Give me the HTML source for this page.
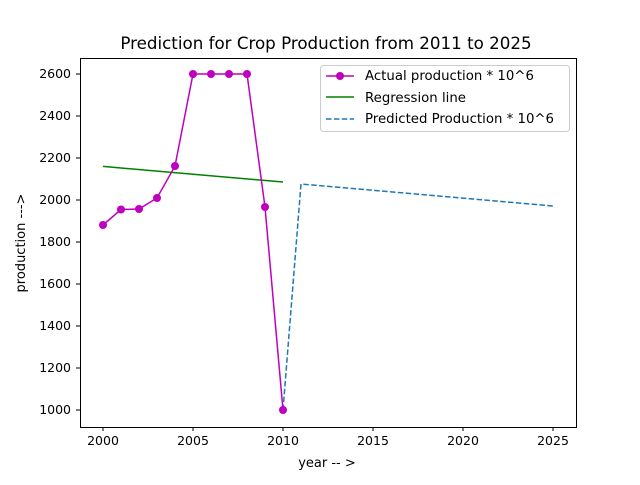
<!DOCTYPE html>
<html><head><meta charset="utf-8"><style>body{margin:0;background:#fff}</style></head><body>
<svg width="640" height="480" xmlns="http://www.w3.org/2000/svg" font-family="DejaVu Sans, Liberation Sans, sans-serif">
<rect width="640" height="480" fill="#fff"/>
<text x="326" y="49" font-size="16.7" text-anchor="middle">Prediction for Crop Production from 2011 to 2025</text>
<g stroke="#000" stroke-width="1">
<line x1="103" y1="427" x2="103" y2="431"/><line x1="193" y1="427" x2="193" y2="431"/><line x1="283" y1="427" x2="283" y2="431"/><line x1="373" y1="427" x2="373" y2="431"/><line x1="463" y1="427" x2="463" y2="431"/><line x1="553" y1="427" x2="553" y2="431"/>
<line x1="76" y1="410" x2="80" y2="410"/><line x1="76" y1="368" x2="80" y2="368"/><line x1="76" y1="326" x2="80" y2="326"/><line x1="76" y1="284" x2="80" y2="284"/><line x1="76" y1="242" x2="80" y2="242"/><line x1="76" y1="200" x2="80" y2="200"/><line x1="76" y1="158" x2="80" y2="158"/><line x1="76" y1="116" x2="80" y2="116"/><line x1="76" y1="74" x2="80" y2="74"/>
</g>
<g font-size="12.5" text-anchor="middle">
<text x="103" y="445">2000</text><text x="193" y="445">2005</text><text x="283" y="445">2010</text><text x="373" y="445">2015</text><text x="463" y="445">2020</text><text x="553" y="445">2025</text>
</g>
<g font-size="12.5" text-anchor="end">
<text x="71" y="414">1000</text><text x="71" y="372">1200</text><text x="71" y="330">1400</text><text x="71" y="288">1600</text><text x="71" y="246">1800</text><text x="71" y="204">2000</text><text x="71" y="162">2200</text><text x="71" y="120">2400</text><text x="71" y="78">2600</text>
</g>
<text x="327" y="467" font-size="13" text-anchor="middle">year -- &gt;</text>
<text transform="translate(25,243) rotate(-90)" font-size="13" text-anchor="middle">production ---&gt;</text>
<polyline fill="none" stroke="#1f77b4" stroke-width="1.5" stroke-dasharray="5.5,2.4" points="283,410 301,184 553,206"/>
<line x1="103" y1="166.4" x2="283" y2="182" stroke="#008000" stroke-width="1.5"/>
<polyline fill="none" stroke="#bf00bf" stroke-width="1.5" points="103,225 121,209.5 139,209 157,198 175,166 193,74 211,74 229,74 247,74 265,207 283,410"/>
<g fill="#bf00bf">
<circle cx="103" cy="225" r="4"/><circle cx="121" cy="209.5" r="4"/><circle cx="139" cy="209" r="4"/><circle cx="157" cy="198" r="4"/><circle cx="175" cy="166" r="4"/><circle cx="193" cy="74" r="4"/><circle cx="211" cy="74" r="4"/><circle cx="229" cy="74" r="4"/><circle cx="247" cy="74" r="4"/><circle cx="265" cy="207" r="4"/><circle cx="283" cy="410" r="4"/>
</g>
<rect x="80.5" y="58.5" width="496" height="369" fill="none" stroke="#000" stroke-width="1"/>
<rect x="320.5" y="65.5" width="249" height="66" rx="3" fill="#fff" fill-opacity="0.8" stroke="#ccc"/>
<line x1="326" y1="76" x2="354" y2="76" stroke="#bf00bf" stroke-width="1.5"/><circle cx="340" cy="76" r="4" fill="#bf00bf"/>
<line x1="326" y1="97" x2="354" y2="97" stroke="#008000" stroke-width="1.5"/>
<line x1="326" y1="119" x2="354" y2="119" stroke="#1f77b4" stroke-width="1.5" stroke-dasharray="5.5,2.4"/>
<g font-size="13.3"><text x="365" y="80">Actual production * 10^6</text><text x="365" y="102">Regression line</text><text x="365" y="123">Predicted Production * 10^6</text></g>
</svg>
</body></html>
